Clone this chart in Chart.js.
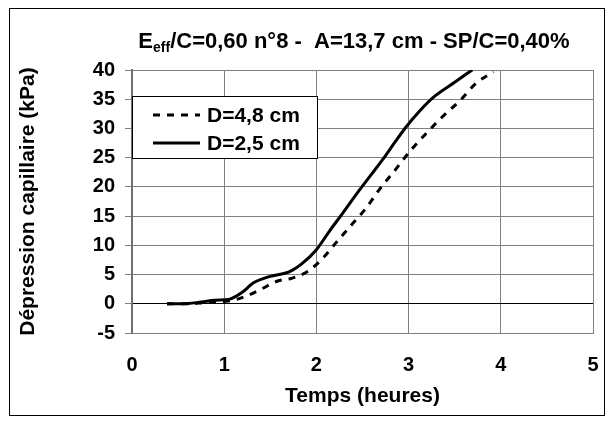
<!DOCTYPE html>
<html>
<head>
<meta charset="utf-8">
<script src="https://cdn.jsdelivr.net/npm/chart.js@4.4.1/dist/chart.umd.min.js"></script>
<style>
body { margin: 0; background: #fff; }
#wrap { width: 612px; height: 423px; }
</style>
</head>
<body>
<div id="wrap"><canvas id="mycanvas" width="612" height="423"></canvas></div>
<script>
// temps (heures) et dépression capillaire (kPa)
let tempsD48 = [0.38, 0.6, 0.8, 1.0, 1.1, 1.22, 1.4, 1.58, 1.73, 1.91, 2.07, 2.21, 2.37, 2.54, 2.68, 2.86, 3.02, 3.2, 3.38, 3.56, 3.73, 3.92]
let depD48 = [0, 0, 0.2, 0.4, 0.6, 1.2, 2.5, 3.9, 4.35, 5.6, 7.8, 10.4, 13.3, 16.4, 19.5, 23.0, 26.2, 29.3, 32.2, 34.8, 37.7, 39.7]
let tempsD25 = [0.38, 0.55, 0.75, 0.9, 1.06, 1.2, 1.31, 1.49, 1.71, 1.85, 2.0, 2.14, 2.29, 2.46, 2.59, 2.72, 2.85, 2.97, 3.12, 3.29, 3.5, 3.69]
let depD25 = [0, 0, 0.3, 0.6, 0.8, 2.0, 3.5, 4.65, 5.5, 6.95, 9.25, 12.4, 15.6, 19.3, 22.0, 24.7, 27.6, 30.2, 33.0, 35.6, 37.9, 40]
let labels = ["D=4,8 cm", "D=2,5 cm"]
let xTicks = [0, 1, 2, 3, 4, 5]
let yTicks = [-5, 0, 5, 10, 15, 20, 25, 30, 35, 40]

let police = "'Liberation Sans', Arial, sans-serif"

function toPoints(xs, ys) {
	return xs.map((x, i) => ({ x: x, y: ys[i] }))
}

// cadre, titre avec indice et légende dans la zone de tracé
let decor = {
	id: 'decor',
	afterDraw(chart) {
		let c = chart.ctx
		c.save()
		c.strokeStyle = '#000'
		c.lineWidth = 1
		c.strokeRect(9.5, 8.5, 595, 407)

		// titre
		let big = 'bold 22px ' + police
		let small = 'bold 14px ' + police
		let rest = '/C=0,60 n°8 -  A=13,7 cm - SP/C=0,40%'
		c.font = big
		let wE = c.measureText('E').width
		let wR = c.measureText(rest).width
		c.font = small
		let wS = c.measureText('eff').width
		let x = 354 - (wE + wS + wR) / 2
		let base = 48
		c.fillStyle = '#000'
		c.textBaseline = 'alphabetic'
		c.textAlign = 'left'
		c.font = big
		c.fillText('E', x, base)
		c.font = small
		c.fillText('eff', x + wE, base + 4)
		c.font = big
		c.fillText(rest, x + wE + wS, base)

		// légende
		let a = chart.chartArea
		c.fillStyle = '#fff'
		c.fillRect(a.left, 96, 185, 62)
		c.strokeStyle = '#000'
		c.strokeRect(a.left + 0.5, 96.5, 185, 62)
		chart.data.datasets.forEach((ds, i) => {
			let y = 115 + i * 28
			c.beginPath()
			c.setLineDash(ds.borderDash || [])
			c.lineWidth = ds.borderWidth
			c.strokeStyle = ds.borderColor
			c.moveTo(153, y)
			c.lineTo(200, y)
			c.stroke()
			c.setLineDash([])
			c.fillStyle = '#000'
			c.font = 'bold 21px ' + police
			c.textBaseline = 'middle'
			c.fillText(ds.label, 207, y + 1)
		})
		c.restore()
	}
}

var ctx = document.getElementById("mycanvas").getContext('2d');
var myChart = new Chart(ctx, {
	type: 'scatter',
	data: {
		datasets: [{
			label: labels[0],
			data: toPoints(tempsD48, depD48),
			showLine: true,
			borderColor: '#000',
			borderWidth: 3,
			borderDash: [7, 7],
			pointRadius: 0,
			cubicInterpolationMode: 'monotone'
		}, {
			label: labels[1],
			data: toPoints(tempsD25, depD25),
			showLine: true,
			borderColor: '#000',
			borderWidth: 3,
			pointRadius: 0,
			cubicInterpolationMode: 'monotone'
		}]
	},
	options: {
		responsive: false,
		animation: false,
		layout: { padding: { left: 10, right: 19, top: 70, bottom: 10 } },
		plugins: {
			legend: { display: false },
			title: { display: false },
			tooltip: { enabled: false }
		},
		scales: {
			x: {
				type: 'linear',
				min: 0,
				max: 5,
				afterBuildTicks: (s) => { s.ticks = xTicks.map(v => ({ value: v })) },
				afterFit: (s) => { s.height = 80; s.paddingLeft = 0; s.paddingRight = 0 },
				ticks: {
					color: '#000',
					padding: 20,
					maxRotation: 0,
					font: { family: police, size: 20, weight: 'bold' }
				},
				grid: { color: '#808080', drawTicks: false },
				border: { display: true, color: '#808080' },
				title: {
					display: true,
					text: 'Temps (heures)',
					color: '#000',
					padding: { bottom: 4 },
					font: { family: police, size: 21, weight: 'bold' }
				}
			},
			y: {
				type: 'linear',
				min: -5,
				max: 40,
				afterBuildTicks: (s) => { s.ticks = yTicks.map(v => ({ value: v })) },
				afterFit: (s) => { s.width = 122; s.paddingTop = 0; s.paddingBottom = 0 },
				ticks: {
					color: '#000',
					padding: 10,
					font: { family: police, size: 20, weight: 'bold' }
				},
				grid: {
					color: (g) => g.tick && g.tick.value === 0 ? '#000' : '#808080',
					tickColor: '#808080',
					tickLength: 7
				},
				border: { display: true, color: '#707070', width: 2 },
				title: {
					display: true,
					text: 'Dépression capillaire (kPa)',
					color: '#000',
					padding: { top: 6 },
					font: { family: police, size: 21, weight: 'bold' }
				}
			}
		}
	},
	plugins: [decor]
});
</script>
</body>
</html>
